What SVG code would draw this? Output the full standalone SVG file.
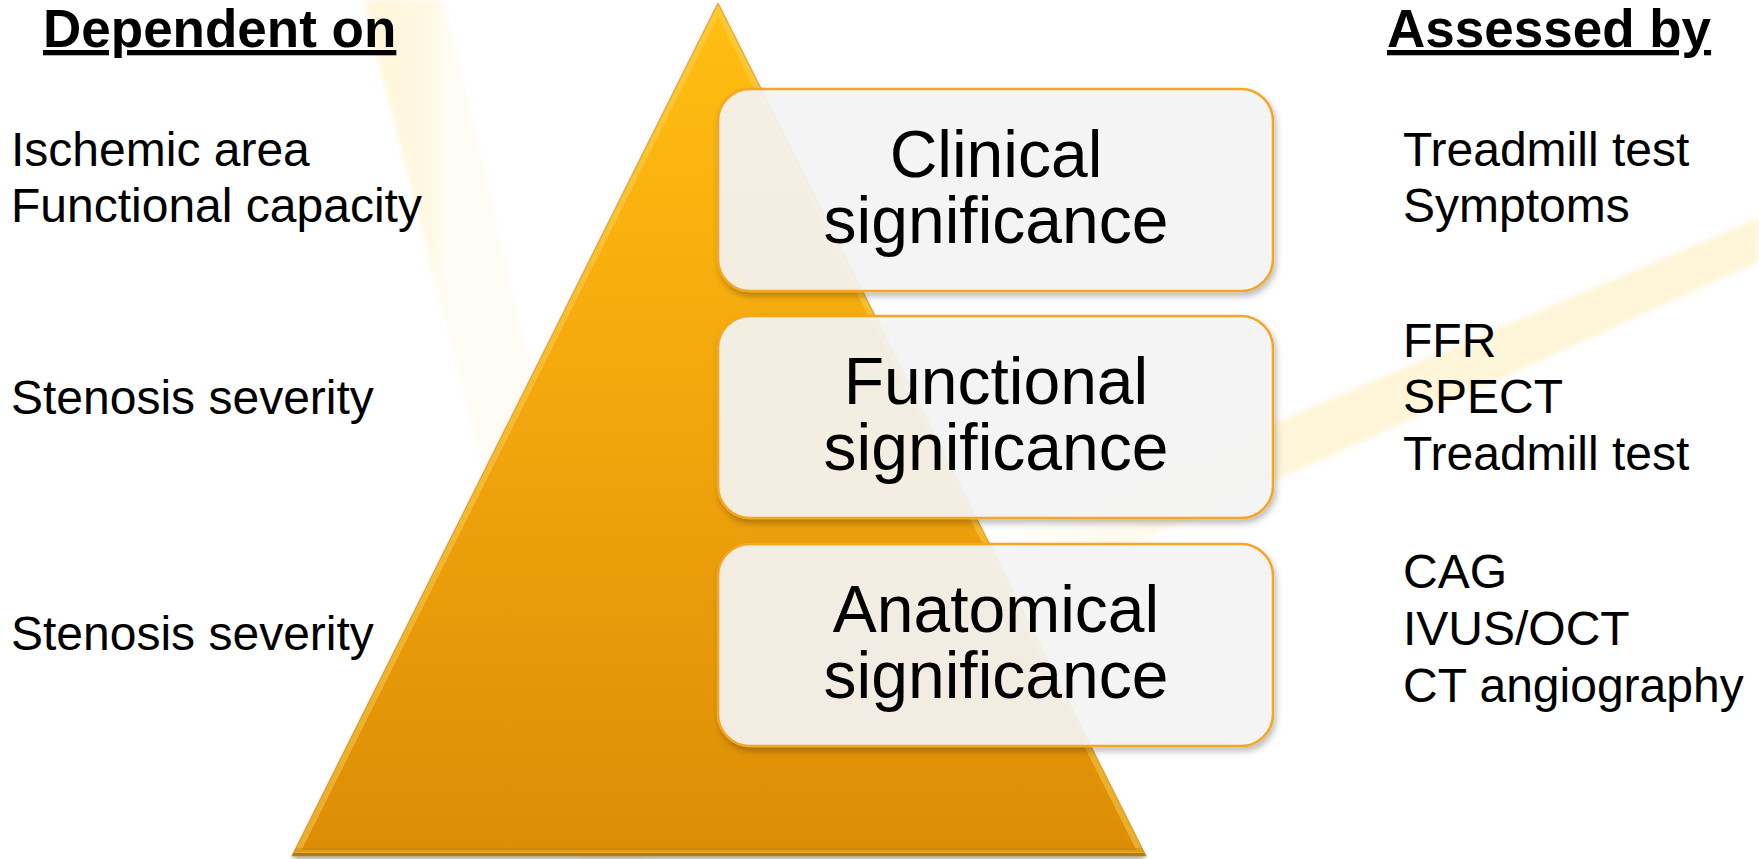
<svg xmlns="http://www.w3.org/2000/svg" width="1759" height="859" viewBox="0 0 1759 859">
  <style>
    .head { font-family: "Liberation Sans", Arial, sans-serif; font-weight: bold; font-size: 53px; fill: #000; text-decoration: underline; }
    .item { font-family: "Liberation Sans", Arial, sans-serif; font-size: 48px; fill: #000; }
    .label { font-family: "Liberation Sans", Arial, sans-serif; font-size: 66px; fill: #000; text-anchor: middle; }
    .box { fill: #F6F6F6; fill-opacity: 0.9; stroke: #F5A623; stroke-width: 2.5; filter: url(#boxShadow); }
  </style>
  <defs>
    <linearGradient id="pyramidFill" x1="0" y1="0" x2="0" y2="1">
      <stop offset="0" stop-color="#FFBF12"/>
      <stop offset="0.5" stop-color="#F2A50C"/>
      <stop offset="1" stop-color="#DC8D06"/>
    </linearGradient>
    <linearGradient id="rayLeft" gradientUnits="userSpaceOnUse" x1="360" y1="0" x2="450" y2="0">
      <stop offset="0" stop-color="#FFF6DA" stop-opacity="0.6"/>
      <stop offset="0.2" stop-color="#FFF6DA"/>
      <stop offset="0.8" stop-color="#FFF8E4"/>
      <stop offset="1" stop-color="#FFFAEE" stop-opacity="0.5"/>
    </linearGradient>
    <linearGradient id="rayRight" gradientUnits="userSpaceOnUse" x1="990" y1="0" x2="1320" y2="0">
      <stop offset="0" stop-color="#FFF5D8" stop-opacity="0"/>
      <stop offset="1" stop-color="#FFF5D8" stop-opacity="1"/>
    </linearGradient>
    <filter id="soft" x="-20%" y="-20%" width="140%" height="140%">
      <feGaussianBlur stdDeviation="2.5"/>
    </filter>
    <filter id="boxShadow" x="-5%" y="-10%" width="110%" height="125%">
      <feDropShadow dx="2" dy="4" stdDeviation="3" flood-color="#000" flood-opacity="0.28"/>
    </filter>
    <filter id="pyrShadow" x="-5%" y="-5%" width="110%" height="110%">
      <feGaussianBlur stdDeviation="2.5"/>
    </filter>
    <clipPath id="pyrClip">
      <polygon points="718,3 292,856 1146,856"/>
    </clipPath>
  </defs>

  <rect width="1759" height="859" fill="#FFFFFF"/>

  <!-- faint light rays in the background -->
  <g id="rays">
    <polygon points="363,0 445,0 644,859 583,859" fill="url(#rayLeft)" filter="url(#soft)"/>
    <polygon points="1759,218 1759,262 1040,587 990,545 1250,433" fill="url(#rayRight)" filter="url(#soft)"/>
  </g>

  <!-- pyramid -->
  <g id="pyramid">
    <polygon points="718,6 292,860 1146,860" fill="#000" opacity="0.3" filter="url(#pyrShadow)"/>
    <polygon points="718,3 292,856 1146,856" fill="url(#pyramidFill)"/>
    <g clip-path="url(#pyrClip)">
      <polygon points="718,3 292,856 1146,856" fill="none" stroke="#FFD45A" stroke-opacity="0.45" stroke-width="12"/>
      <line x1="280" y1="856" x2="1160" y2="856" stroke="#9C6406" stroke-opacity="0.7" stroke-width="6"/>
      <line x1="280" y1="850" x2="1160" y2="850" stroke="#C47D05" stroke-opacity="0.35" stroke-width="4"/>
    </g>
    <polygon points="718,3 292,856 1146,856" fill="none" stroke="#C98806" stroke-opacity="0.55" stroke-width="1.2"/>
  </g>

  <!-- column headings -->
  <g id="heading-left"><text class="head" x="43" y="47">Dependent on</text></g>
  <g id="heading-right"><text class="head" x="1387" y="47">Assessed by</text></g>

  <!-- left column -->
  <g id="dep-clinical">
    <text class="item" x="11" y="166">Ischemic area</text>
    <text class="item" x="11" y="222">Functional capacity</text>
  </g>
  <g id="dep-functional"><text class="item" x="11" y="414">Stenosis severity</text></g>
  <g id="dep-anatomical"><text class="item" x="11" y="650">Stenosis severity</text></g>

  <!-- tiers -->
  <g id="tier-clinical">
    <rect class="box" x="718" y="89" width="555" height="202" rx="32"/>
    <text class="label" x="996" y="177">Clinical</text>
    <text class="label" x="996" y="243">significance</text>
  </g>
  <g id="tier-functional">
    <rect class="box" x="718" y="316" width="555" height="202" rx="32"/>
    <text class="label" x="996" y="404">Functional</text>
    <text class="label" x="996" y="470">significance</text>
  </g>
  <g id="tier-anatomical">
    <rect class="box" x="718" y="544" width="555" height="202" rx="32"/>
    <text class="label" x="996" y="632">Anatomical</text>
    <text class="label" x="996" y="698">significance</text>
  </g>

  <!-- right column -->
  <g id="by-clinical">
    <text class="item" x="1403" y="166">Treadmill test</text>
    <text class="item" x="1403" y="222">Symptoms</text>
  </g>
  <g id="by-functional">
    <text class="item" x="1403" y="357">FFR</text>
    <text class="item" x="1403" y="413">SPECT</text>
    <text class="item" x="1403" y="470">Treadmill test</text>
  </g>
  <g id="by-anatomical">
    <text class="item" x="1403" y="588">CAG</text>
    <text class="item" x="1403" y="645">IVUS/OCT</text>
    <text class="item" x="1403" y="702">CT angiography</text>
  </g>

  <g id="connectors"/>
</svg>
